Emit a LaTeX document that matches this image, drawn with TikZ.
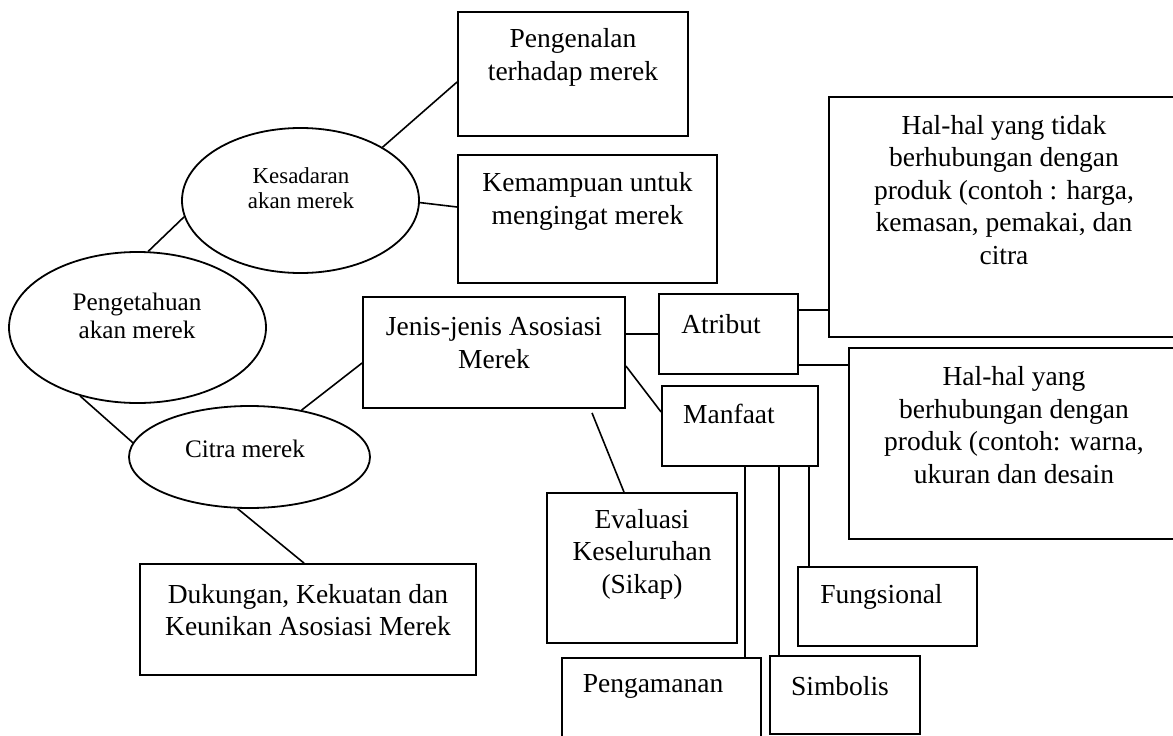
\documentclass[tikz,border=0pt]{standalone}
\usepackage{fontspec}
\setmainfont{Liberation Serif}
\usetikzlibrary{shapes.geometric}
\tikzset{
  box/.style={draw, rectangle, line width=1.8pt, inner sep=0pt},
  ell/.style={draw, ellipse, line width=1.8pt, inner sep=0pt},
  conn/.style={line width=1.6pt},
  lblbig/.style={align=center, inner sep=0pt, font=\fontsize{27.5}{32.5}\selectfont},
  lblmid/.style={align=center, inner sep=0pt, font=\fontsize{25.2}{28}\selectfont},
  lblsmall/.style={align=center, inner sep=0pt, font=\fontsize{22.9}{25}\selectfont},
}
\begin{document}
\begin{tikzpicture}[x=1pt, y=-1pt]
\useasboundingbox[fill=white] (0,0) rectangle (1173,736);

% ellipses
\node[ell, minimum width=237pt, minimum height=145pt] (kes) at (300.5,200.5) {};
\node[lblsmall] (t-kes) at (301,188) {Kesadaran\\akan merek};
\node[ell, minimum width=257pt, minimum height=151pt] (peng) at (137.5,327.5) {};
\node[lblmid] (t-peng) at (137,316) {Pengetahuan\\akan merek};
\node[ell, minimum width=241pt, minimum height=102pt] (citra) at (249.5,457) {};
\node[lblmid] (t-citra) at (245,449) {Citra merek};

% boxes
\node[box, minimum width=230pt, minimum height=124pt] (pengenalan) at (573,74) {};
\node[lblbig] (t-pengenalan) at (573,57.5) {Pengenalan\\terhadap merek};
\node[box, minimum width=259pt, minimum height=128pt] (kemampuan) at (587.5,219) {};
\node[lblbig] (t-kemampuan) at (587.5,201.5) {Kemampuan untuk\\mengingat merek};
\node[box, minimum width=262pt, minimum height=111pt] (jenis) at (494,352.5) {};
\node[lblbig] (t-jenis) at (494,343) {Jenis-jenis Asosiasi\\Merek};
\node[box, minimum width=139pt, minimum height=80pt] (atribut) at (728.5,334) {};
\node[lblbig] (t-atribut) at (721,324) {Atribut};
\node[box, minimum width=156pt, minimum height=80pt] (manfaat) at (740,426) {};
\node[lblbig] (t-manfaat) at (729,414) {Manfaat};
\node[box, minimum width=190pt, minimum height=150pt] (evaluasi) at (642,568) {};
\node[lblbig] (t-evaluasi) at (642,554) {Evaluasi\\Keseluruhan\\(Sikap)};
\node[box, minimum width=336pt, minimum height=111pt] (dukungan) at (308,619.5) {};
\node[lblbig] (t-dukungan) at (308,610) {Dukungan, Kekuatan dan\\Keunikan Asosiasi Merek};
\node[box, minimum width=179pt, minimum height=79pt] (fungsional) at (887.5,606.5) {};
\node[lblbig] (t-fungsional) at (881.5,597) {Fungsional};
\node[box, minimum width=199pt, minimum height=92pt] (pengamanan) at (661.5,704) {};
\node[lblbig] (t-pengamanan) at (653,686) {Pengamanan};
\node[box, minimum width=150pt, minimum height=78pt] (simbolis) at (845,695) {};
\node[lblbig] (t-simbolis) at (840,686) {Simbolis};
\node[box, minimum width=350pt, minimum height=240pt] (haltidak) at (1004,217) {};
\node[lblbig] (t-haltidak) at (1004,190) {Hal-hal yang tidak\\berhubungan dengan\\produk (contoh : harga,\\kemasan, pemakai, dan\\citra};
\node[box, minimum width=330pt, minimum height=191pt] (halyang) at (1014,443.5) {};
\node[lblbig] (t-halyang) at (1014,425) {Hal-hal yang\\berhubungan dengan\\produk (contoh: warna,\\ukuran dan desain};

% connectors
\draw[conn] (kes.33) -- ([yshift=-8pt]pengenalan.west);
\draw[conn] (kes.-1) -- ([yshift=12pt]kemampuan.west);
\draw[conn] (kes.188) -- (peng.82);
\draw[conn] (peng.230) -- (citra.173);
\draw[conn] (citra.42) -- ([yshift=-10.5pt]jenis.west);
\draw[conn] (citra.257) -- ([xshift=-4pt]dukungan.north);
\draw[conn] (atribut.west) -- (atribut.west -| jenis.east);
\draw[conn] ([yshift=-13.5pt]jenis.east) -- ([yshift=14pt]manfaat.west);
\draw[conn] ([xshift=98pt,yshift=-4pt]jenis.south) -- ([xshift=-18pt]evaluasi.north);
\draw[conn] ([yshift=24pt]atribut.east) -- ([yshift=24pt]atribut.east -| haltidak.west);
\draw[conn] ([yshift=-31pt]atribut.east) -- ([yshift=-31pt]atribut.east -| halyang.west);
\draw[conn] ([xshift=5pt]manfaat.south) -- ([xshift=5pt]manfaat.south |- pengamanan.north);
\draw[conn] ([xshift=39pt]manfaat.south) -- ([xshift=39pt]manfaat.south |- simbolis.north);
\draw[conn] ([xshift=69pt]manfaat.south) -- ([xshift=69pt]manfaat.south |- fungsional.north);
\end{tikzpicture}
\end{document}
